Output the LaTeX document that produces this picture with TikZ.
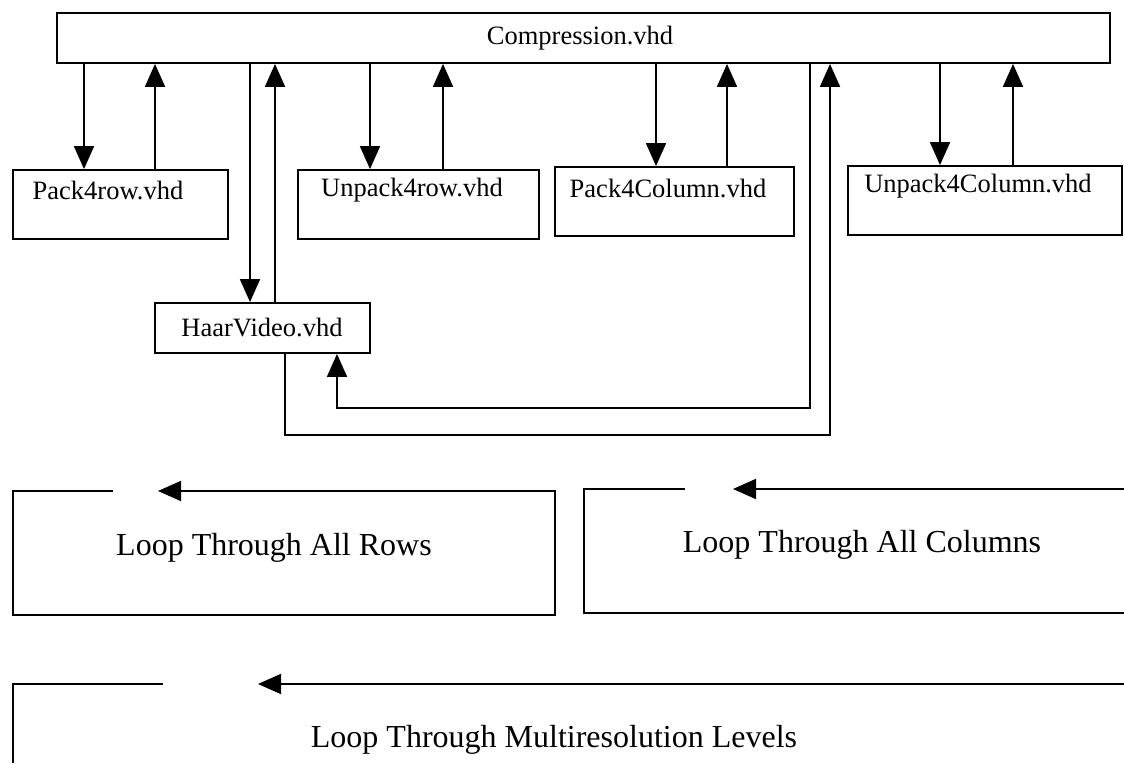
\documentclass[tikz,border=0pt]{standalone}
\usepackage{fontspec}
\setmainfont{Liberation Serif}
\usetikzlibrary{arrows.meta}
\begin{document}
\begin{tikzpicture}[x=1pt,y=-1pt,
  line width=1.8pt,
  box/.style={draw, rectangle, inner sep=0pt},
  file/.style={font=\fontsize{26.5}{30}\selectfont, inner sep=0pt},
  looptext/.style={font=\fontsize{32}{36}\selectfont, inner sep=0pt},
  arr/.style={-{Triangle[length=23pt,width=20pt]}},
  wire/.style={-}]
\useasboundingbox (0,0) rectangle (1124,763);

% module boxes
\node[box, minimum width=1053pt, minimum height=50pt] (comp) at (583.5,38) {};
\node[file] (compt) at (580,38) {Compression.vhd};

\node[box, minimum width=215pt, minimum height=69pt] (p4r) at (120.5,204.5) {};
\node[file] (p4rt) at (108,190) {Pack4row.vhd};

\node[box, minimum width=241pt, minimum height=69pt] (u4r) at (418.5,204.5) {};
\node[file] (u4rt) at (412,190) {Unpack4row.vhd};

\node[box, minimum width=239pt, minimum height=69pt] (p4c) at (674.5,201.5) {};
\node[file] (p4ct) at (668,188) {Pack4Column.vhd};

\node[box, minimum width=274pt, minimum height=69pt] (u4c) at (985,200.5) {};
\node[file] (u4ct) at (978,186) {Unpack4Column.vhd};

\node[box, minimum width=215pt, minimum height=50pt] (haar) at (262.5,328) {};
\node[file] (haart) at (262,328) {HaarVideo.vhd};

% connector columns
\coordinate (c1) at (84,0);   \coordinate (c2) at (155,0);
\coordinate (c3) at (250,0);  \coordinate (c4) at (275,0);
\coordinate (c5) at (370,0);  \coordinate (c6) at (443,0);
\coordinate (c7) at (656,0);  \coordinate (c8) at (727,0);
\coordinate (c9) at (810,0);  \coordinate (c10) at (830,0);
\coordinate (c11) at (940,0); \coordinate (c12) at (1013,0);
\coordinate (h1) at (285,0);  \coordinate (h2) at (337,0);
\coordinate (rowin) at (0,408); \coordinate (rowout) at (0,435);

% calls and returns
\draw[arr] (c1 |- comp.south) -- (c1 |- p4r.north);
\draw[arr] (c2 |- p4r.north) -- (c2 |- comp.south);
\draw[arr] (c3 |- comp.south) -- (c3 |- haar.north);
\draw[arr] (c4 |- haar.north) -- (c4 |- comp.south);
\draw[arr] (c5 |- comp.south) -- (c5 |- u4r.north);
\draw[arr] (c6 |- u4r.north) -- (c6 |- comp.south);
\draw[arr] (c7 |- comp.south) -- (c7 |- p4c.north);
\draw[arr] (c8 |- p4c.north) -- (c8 |- comp.south);
\draw[arr] (c11 |- comp.south) -- (c11 |- u4c.north);
\draw[arr] (c12 |- u4c.north) -- (c12 |- comp.south);

% feedback paths around HaarVideo
\draw[arr] (c9 |- comp.south) -- (c9 |- rowin) -- (h2 |- rowin) -- (h2 |- haar.south);
\draw[arr] (h1 |- haar.south) -- (h1 |- rowout) -- (c10 |- rowout) -- (c10 |- comp.south);

% loop frames
\draw[arr] (113,491) -- (13,491) -- (13,615) -- (555,615) -- (555,491) -- (158,491);
\node[looptext] (rows) at (274,548) {Loop Through All Rows};

\draw (685,489) -- (584,489) -- (584,613) -- (1124,613);
\draw[arr] (1124,489) -- (733,489);
\node[looptext] (cols) at (862,545) {Loop Through All Columns};

\draw (163,684) -- (13,684) -- (13,763);
\draw[arr] (1124,684) -- (258,684);
\node[looptext] (levels) at (554,740) {Loop Through Multiresolution Levels};
\end{tikzpicture}
\end{document}
